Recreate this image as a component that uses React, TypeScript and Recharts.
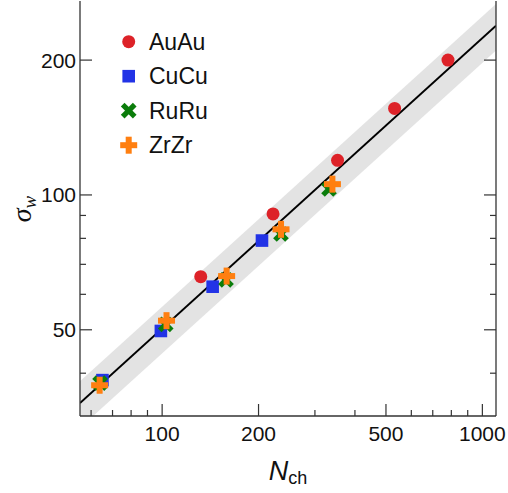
import React from "react";
import { ComposedChart, XAxis, YAxis, Scatter, Line, Area, Legend } from "recharts";

// sigma_w vs N_ch
const auauN = [132, 222, 353, 532, 781];
const auauSigma = [65.7, 90.7, 119.5, 156, 200];
const cucuN = [65.1, 99.1, 143.8, 205];
const cucuSigma = [38.6, 49.7, 62.4, 79.1];
const ruruN = [64, 102.6, 158.3, 235, 332];
const ruruSigma = [38.0, 51.4, 64.6, 81.8, 103.1];
const zrzrN = [63.8, 103.2, 159, 235.1, 340.2];
const zrzrSigma = [37.6, 52.4, 65.9, 83.8, 105.7];

// fit line and grey band, ends of the plotted range
const fitN = [55.4, 1103];
const fitSigma = [34.3, 238.6];
const bandLow = [30.2, 210];
const bandHigh = [38.4, 267];

const xMajor = [100, 200, 500, 1000];
const xMinor = [60, 70, 80, 90, 300, 400, 600, 700, 800, 900];
const yMajor = [50, 100, 200];
const yMinor = [40, 60, 70, 80, 90];

const xDomain = [55.4, 1103];
const yDomain = [32.1, 271];

const FRAME = "#333";
const FONT = "'Liberation Sans', Arial, sans-serif";

const toPoints = (ns: number[], ss: number[]) => ns.map((n, i) => ({ n, s: ss[i] }));
const fitData = fitN.map((n, i) => ({ n, s: fitSigma[i] }));
const bandData = fitN.map((n, i) => ({ n, band: [bandLow[i], bandHigh[i]] }));

const Circle = ({ cx, cy, fill }: any) => <circle cx={cx} cy={cy} r={6.5} fill={fill} />;
const Square = ({ cx, cy, fill }: any) => (
  <rect x={cx - 6.3} y={cy - 6.3} width={12.6} height={12.6} fill={fill} />
);
const Cross = ({ cx, cy, fill }: any) => (
  <g transform={`translate(${cx},${cy}) rotate(45)`}>
    <rect x={-8.5} y={-2.6} width={17} height={5.2} fill={fill} />
    <rect x={-2.6} y={-8.5} width={5.2} height={17} fill={fill} />
  </g>
);
const Plus = ({ cx, cy, fill }: any) => (
  <g transform={`translate(${cx},${cy})`}>
    <rect x={-8.5} y={-3} width={17} height={6} fill={fill} />
    <rect x={-3} y={-8.5} width={6} height={17} fill={fill} />
  </g>
);

const series = [
  { name: "AuAu", color: "#dd2228", shape: Circle, data: toPoints(auauN, auauSigma) },
  { name: "CuCu", color: "#2233e6", shape: Square, data: toPoints(cucuN, cucuSigma) },
  { name: "RuRu", color: "#0b7d0b", shape: Cross, data: toPoints(ruruN, ruruSigma) },
  { name: "ZrZr", color: "#ff7f10", shape: Plus, data: toPoints(zrzrN, zrzrSigma) },
];

const tickLen = (major: boolean) => (major ? 12 : 6);

const BottomTick = ({ x, y, payload }: any) => {
  const major = xMajor.includes(payload.value);
  return (
    <g>
      <line x1={x} x2={x} y1={y} y2={y - tickLen(major)} stroke={FRAME} strokeWidth={1.2} />
      {major && (
        <text x={x} y={y + 25} textAnchor="middle" fontSize={21} fill="#111" fontFamily={FONT}>
          {payload.value}
        </text>
      )}
    </g>
  );
};

const TopTick = ({ x, y, payload }: any) => {
  const major = xMajor.includes(payload.value);
  return <line x1={x} x2={x} y1={y} y2={y + tickLen(major)} stroke={FRAME} strokeWidth={1.2} />;
};

const LeftTick = ({ x, y, payload }: any) => {
  const major = yMajor.includes(payload.value);
  return (
    <g>
      <line x1={x} x2={x + tickLen(major)} y1={y} y2={y} stroke={FRAME} strokeWidth={1.2} />
      {major && (
        <text x={x - 4} y={y + 7.5} textAnchor="end" fontSize={21} fill="#111" fontFamily={FONT}>
          {payload.value}
        </text>
      )}
    </g>
  );
};

const RightTick = ({ x, y, payload }: any) => {
  const major = yMajor.includes(payload.value);
  return <line x1={x} x2={x - tickLen(major)} y1={y} y2={y} stroke={FRAME} strokeWidth={1.2} />;
};

const XTitle = ({ viewBox }: any) => (
  <text x={viewBox.x + viewBox.width / 2} y={480} textAnchor="middle" fontFamily={FONT} fill="#111">
    <tspan fontSize={27} fontStyle="italic">N</tspan>
    <tspan fontSize={18} dy={4}>ch</tspan>
  </text>
);

const YTitle = () => (
  <text
    transform="translate(31,209) rotate(-90)"
    textAnchor="middle"
    fontFamily="'Liberation Serif', serif"
    fontStyle="italic"
    fill="#111"
  >
    <tspan fontSize={28}>σ</tspan>
    <tspan fontSize={19} dy={5}>w</tspan>
  </text>
);

const LegendBox = () => (
  <svg width={220} height={170} style={{ overflow: "visible" }}>
    {series.map((s, i) => {
      const cy = 41.7 + i * 34.5;
      const Shape = s.shape;
      return (
        <g key={s.name}>
          <Shape cx={128.7} cy={cy} fill={s.color} />
          <text x={149} y={cy + 8} fontSize={23} fill="#111" fontFamily={FONT}>
            {s.name}
          </text>
        </g>
      );
    })}
  </svg>
);

export default function App() {
  return (
    <div style={{ position: "absolute", left: 0, top: 0 }}>
      <ComposedChart
        width={508}
        height={493}
        margin={{ top: 1, right: 0, bottom: 0, left: 0 }}
        style={{ fontFamily: FONT }}
      >
        <XAxis
          xAxisId="b"
          dataKey="n"
          type="number"
          scale="log"
          domain={xDomain}
          allowDataOverflow
          ticks={[...xMajor, ...xMinor]}
          interval={0}
          tickSize={0}
          tickMargin={0}
          tick={<BottomTick />}
          height={77}
          axisLine={{ stroke: FRAME, strokeWidth: 1.3 }}
          label={<XTitle />}
        />
        <XAxis
          xAxisId="t"
          orientation="top"
          type="number"
          scale="log"
          domain={xDomain}
          allowDataOverflow
          ticks={[...xMajor, ...xMinor]}
          interval={0}
          tickSize={0}
          tickMargin={0}
          tick={<TopTick />}
          height={0}
          axisLine={{ stroke: FRAME, strokeWidth: 1.3 }}
        />
        <YAxis
          yAxisId="l"
          dataKey="s"
          type="number"
          scale="log"
          domain={yDomain}
          allowDataOverflow
          ticks={[...yMajor, ...yMinor]}
          interval={0}
          tickSize={0}
          tickMargin={0}
          tick={<LeftTick />}
          width={80}
          axisLine={{ stroke: FRAME, strokeWidth: 1.3 }}
          label={<YTitle />}
        />
        <YAxis
          yAxisId="r"
          orientation="right"
          type="number"
          scale="log"
          domain={yDomain}
          allowDataOverflow
          ticks={[...yMajor, ...yMinor]}
          interval={0}
          tickSize={0}
          tickMargin={0}
          tick={<RightTick />}
          width={12}
          axisLine={{ stroke: FRAME, strokeWidth: 1.3 }}
        />
        <Area
          xAxisId="b"
          yAxisId="l"
          data={bandData}
          dataKey="band"
          type="linear"
          stroke="none"
          fill="#e3e3e3"
          fillOpacity={1}
          isAnimationActive={false}
          legendType="none"
        />
        <Line
          xAxisId="b"
          yAxisId="l"
          data={fitData}
          dataKey="s"
          type="linear"
          stroke="#000"
          strokeWidth={2}
          dot={false}
          isAnimationActive={false}
          legendType="none"
        />
        {series.map((s) => (
          <Scatter
            key={s.name}
            name={s.name}
            xAxisId="b"
            yAxisId="l"
            data={s.data}
            dataKey="s"
            fill={s.color}
            shape={s.shape}
            isAnimationActive={false}
          />
        ))}
        <Legend
          layout="vertical"
          align="center"
          verticalAlign="middle"
          content={() => <LegendBox />}
          wrapperStyle={{ position: "absolute", left: 0, top: 0, width: 220, height: 170 }}
        />
      </ComposedChart>
    </div>
  );
}
